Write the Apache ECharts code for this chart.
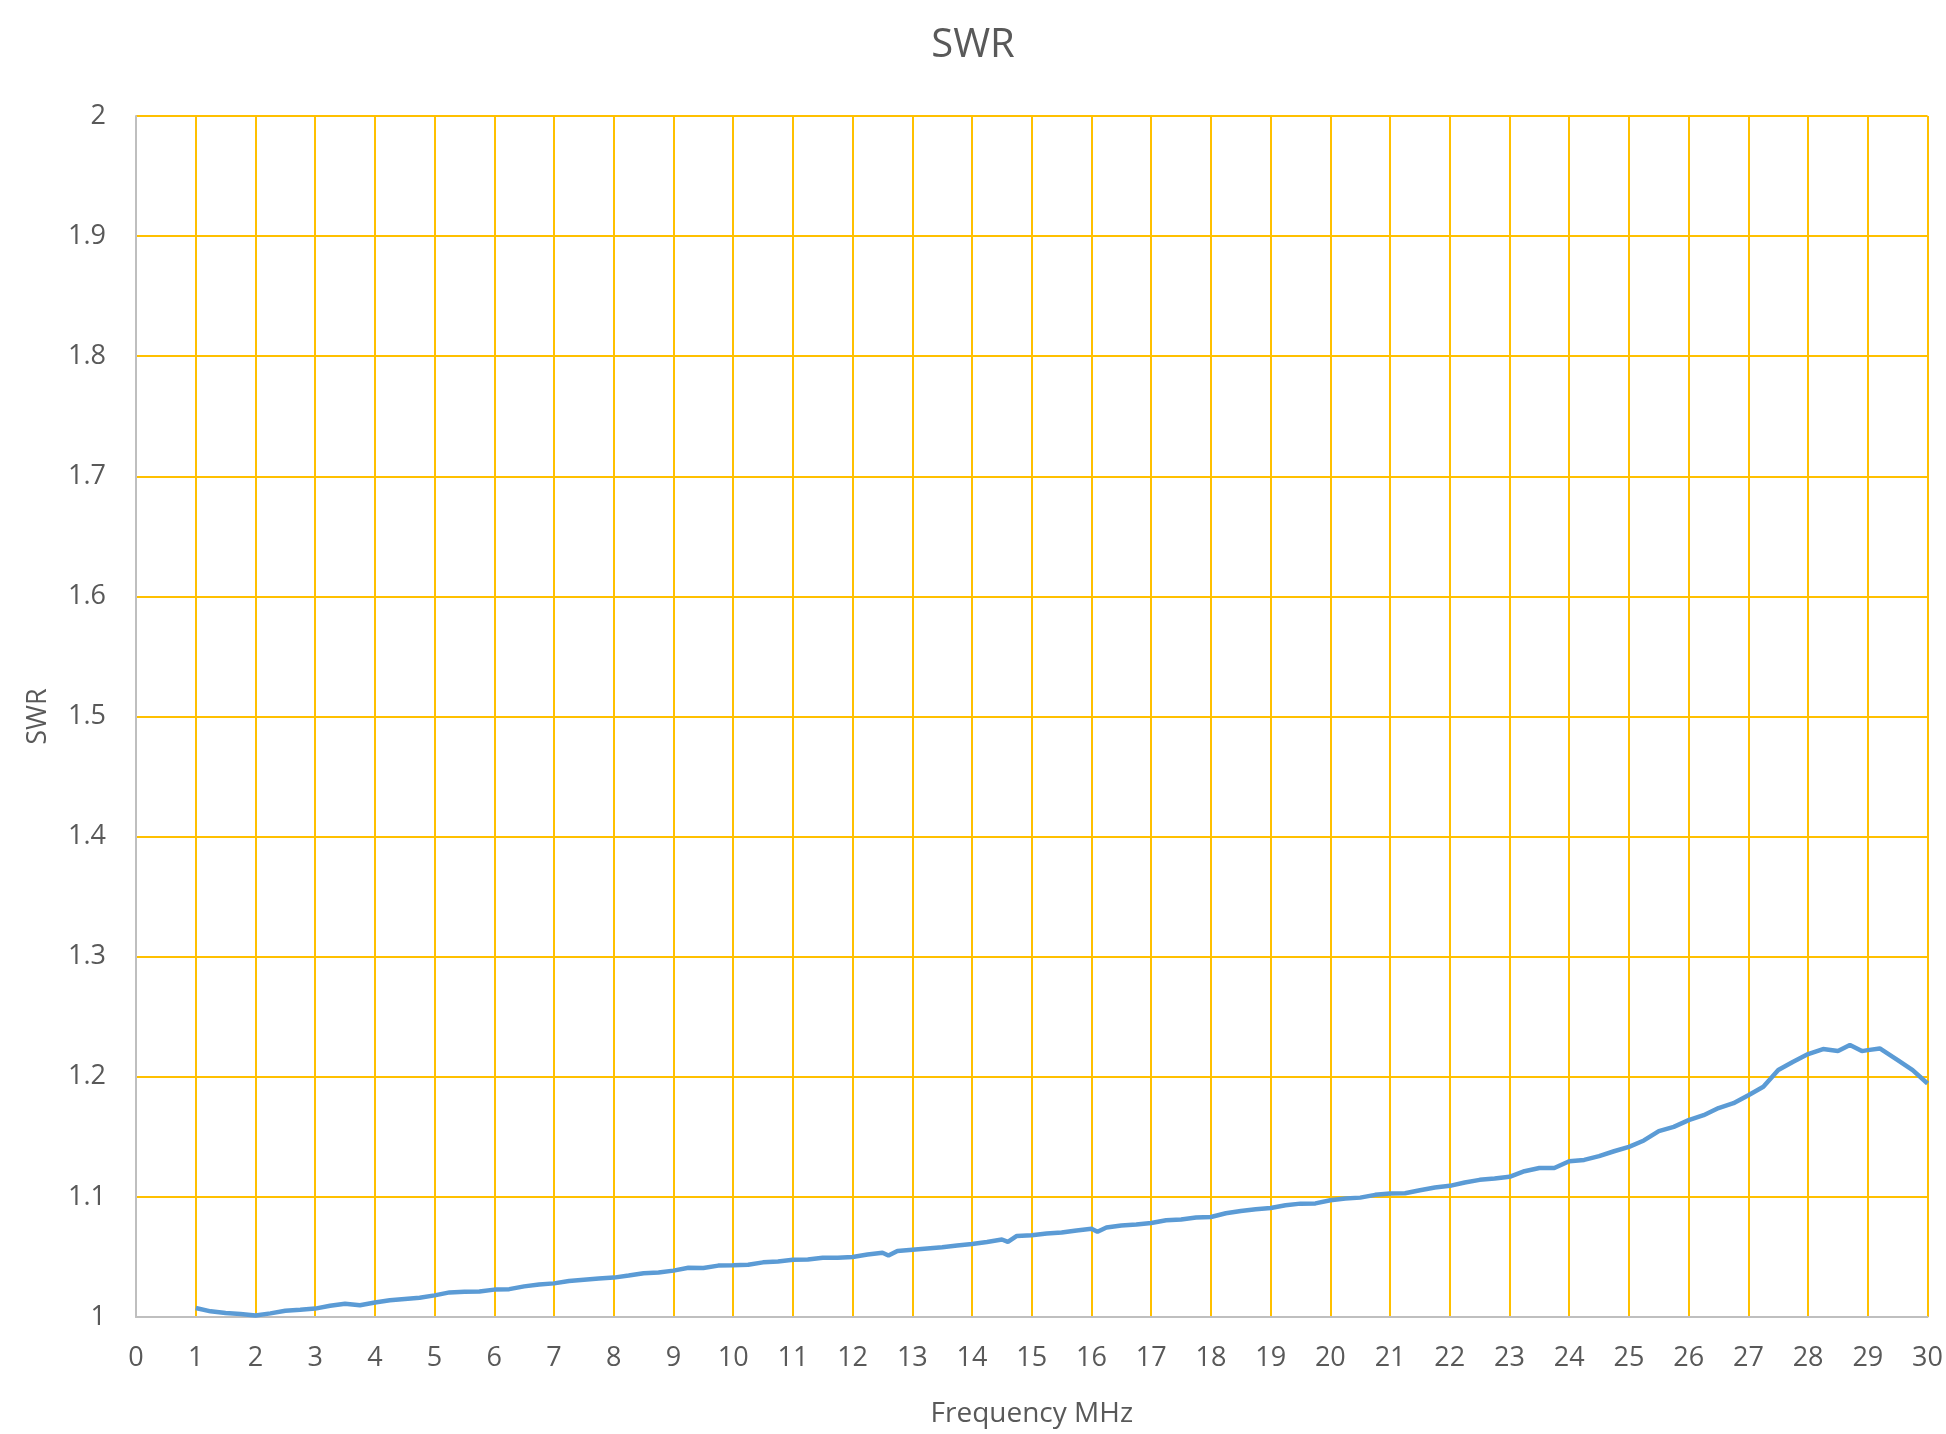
<!DOCTYPE html>
<html>
<head>
<meta charset="utf-8">
<script src="https://cdn.jsdelivr.net/npm/echarts@6/dist/echarts.min.js"></script>
<style>
html,body{margin:0;padding:0;background:#fff;}
#chart{width:1946px;height:1434px;}
</style>
</head>
<body>
<div id="chart"></div>
<script>
const chartTitle = "SWR";
const xAxisName = "Frequency MHz";
const yAxisName = "SWR";
const freqMHz = [1,1.25,1.5,1.75,2,2.25,2.5,2.75,3,3.25,3.5,3.75,4,4.25,4.5,4.75,5,5.25,5.5,5.75,6,6.25,6.5,6.75,7,7.25,7.5,7.75,8,8.25,8.5,8.75,9,9.25,9.5,9.75,10,10.25,10.5,10.75,11,11.25,11.5,11.75,12,12.25,12.5,12.6,12.75,13,13.25,13.5,13.75,14,14.25,14.5,14.6,14.75,15,15.25,15.5,15.75,16,16.1,16.25,16.5,16.75,17,17.25,17.5,17.75,18,18.25,18.5,18.75,19,19.25,19.5,19.75,20,20.25,20.5,20.75,21,21.25,21.5,21.75,22,22.25,22.5,22.75,23,23.25,23.5,23.75,24,24.25,24.5,24.75,25,25.25,25.5,25.75,26,26.25,26.5,26.75,27,27.25,27.5,27.75,28,28.25,28.5,28.7,28.9,29,29.2,29.5,29.75,30];
const swr = [1.0075,1.0047,1.0033,1.0025,1.0012,1.003,1.0052,1.006,1.007,1.0093,1.011,1.0098,1.012,1.014,1.015,1.016,1.018,1.0205,1.021,1.0212,1.0228,1.0232,1.0255,1.027,1.028,1.030,1.031,1.032,1.0328,1.0345,1.0365,1.037,1.0386,1.041,1.0408,1.0428,1.043,1.0435,1.0455,1.0463,1.0477,1.0478,1.0493,1.0494,1.050,1.052,1.0535,1.0512,1.055,1.056,1.057,1.058,1.0595,1.0608,1.0625,1.0645,1.0625,1.0675,1.068,1.0695,1.0703,1.072,1.0735,1.071,1.0745,1.0762,1.077,1.0783,1.0805,1.0812,1.0828,1.0833,1.0864,1.0883,1.0897,1.0908,1.093,1.0944,1.0946,1.0972,1.0986,1.0994,1.1017,1.1028,1.1030,1.1056,1.1078,1.1092,1.112,1.1142,1.1153,1.1167,1.1214,1.124,1.124,1.1297,1.1308,1.134,1.138,1.1417,1.147,1.1547,1.1583,1.1639,1.168,1.174,1.178,1.1847,1.1917,1.2056,1.2125,1.2189,1.2231,1.2214,1.2264,1.2214,1.2222,1.2236,1.2139,1.2056,1.1944];
const xMin = 0, xMax = 30, xStep = 1;
const yMin = 1, yMax = 2, yStep = 0.1;

const points = freqMHz.map((f, i) => [f, swr[i]]);
const textColor = '#595959';
const fontFam = '"Open Sans", "Liberation Sans", sans-serif';

const chart = echarts.init(document.getElementById('chart'), null, {renderer: 'canvas'});
chart.setOption({
  backgroundColor: '#ffffff',
  animation: false,
  title: {
    text: chartTitle,
    left: 'center',
    top: 21,
    textStyle: {color: textColor, fontSize: 40, fontWeight: 'normal', fontFamily: fontFam}
  },
  grid: {left: 136, right: 17, top: 116, bottom: 117, containLabel: false},
  xAxis: {
    type: 'value',
    min: xMin, max: xMax, interval: xStep,
    name: xAxisName,
    nameLocation: 'middle',
    nameGap: 83,
    nameTextStyle: {color: textColor, fontSize: 28, fontFamily: fontFam},
    axisLine: {show: true, lineStyle: {color: '#BFBFBF', width: 2}},
    axisTick: {show: false},
    axisLabel: {color: textColor, fontSize: 27, fontFamily: fontFam, margin: 28},
    splitLine: {show: true, lineStyle: {color: '#FFC000', width: 2}}
  },
  yAxis: {
    type: 'value',
    min: yMin, max: yMax, interval: yStep,
    name: yAxisName,
    nameLocation: 'middle',
    nameGap: 84,
    nameTextStyle: {color: textColor, fontSize: 27, fontFamily: fontFam},
    axisLine: {show: true, lineStyle: {color: '#BFBFBF', width: 2}},
    axisTick: {show: false},
    axisLabel: {
      color: textColor, fontSize: 27, fontFamily: fontFam, margin: 30,
      formatter: v => String(Math.round(v * 10) / 10)
    },
    splitLine: {show: true, lineStyle: {color: '#FFC000', width: 2}}
  },
  series: [{
    type: 'line',
    data: points,
    showSymbol: false,
    symbol: 'none',
    smooth: false,
    lineStyle: {color: '#5B9BD5', width: 4.5},
    z: 5
  }]
});
</script>
</body>
</html>
